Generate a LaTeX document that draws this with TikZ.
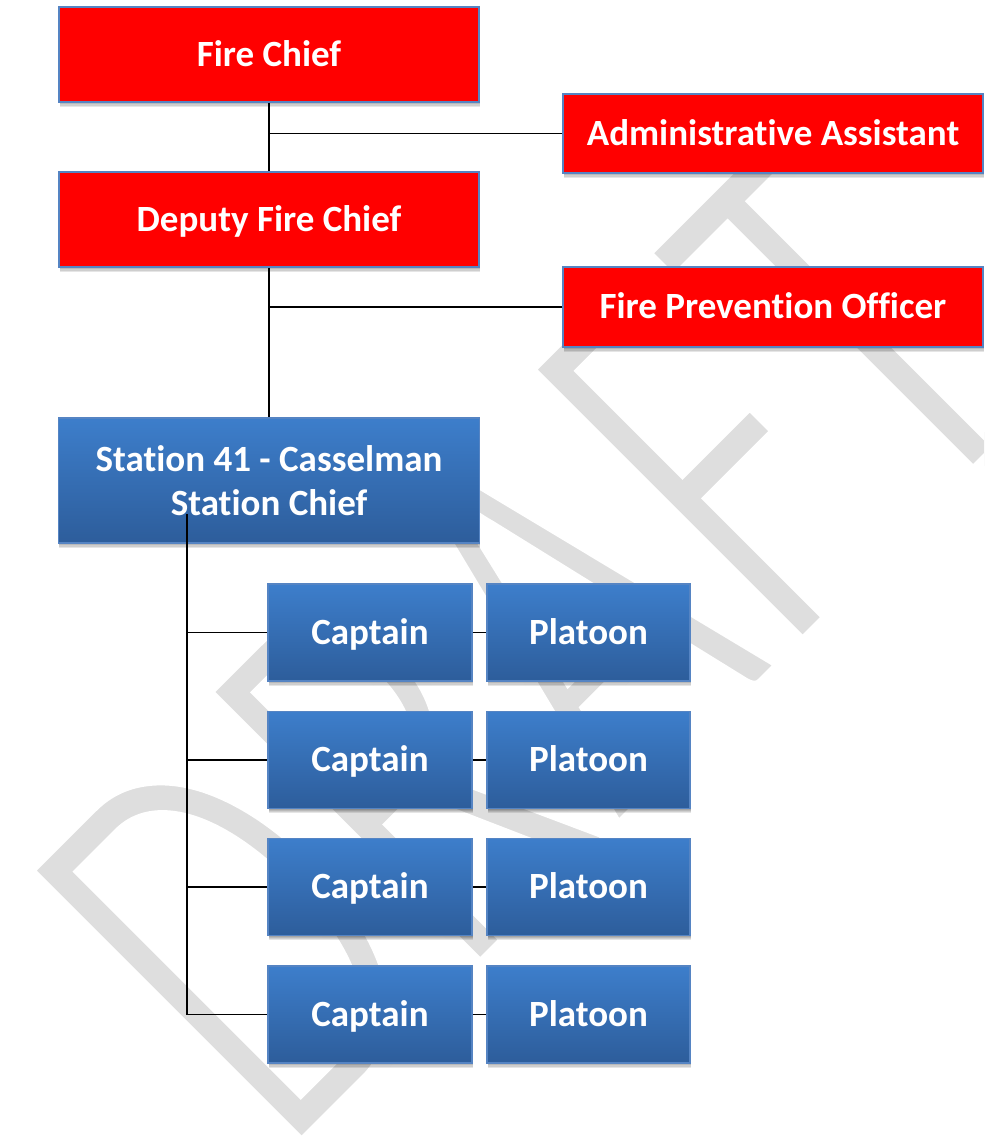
\documentclass[tikz,border=0pt]{standalone}
\usepackage{fontspec}
\setmainfont{Carlito}[Ligatures=NoCommon]
\definecolor{chiefred}{HTML}{FF0000}
\definecolor{boxedge}{HTML}{5584C3}
\definecolor{stationtop}{HTML}{3D7ECB}
\definecolor{stationbot}{HTML}{2D5D9B}
\definecolor{draftgray}{HTML}{DEDEDE}
\newcommand{\thinmark}[1]{\special{pdf:literal direct 2 Tr 1 1 1 RG 6 w}#1\special{pdf:literal direct 0 Tr}}
\tikzset{
  shadowstep/.style={preaction={fill=black, draw=none, fill opacity=0.1,
    transform canvas={xshift=0.4pt, yshift=-#1}}},
  orgbox/.style={draw=boxedge, line width=0.6pt, text=white, inner sep=0pt, align=center,
    font=\bfseries\fontsize{18.5}{22.2}\selectfont,
    shadowstep=0.6pt, shadowstep=1.2pt, shadowstep=1.8pt, shadowstep=2.4pt},
  oneline/.style={text height=11.9pt, text depth=0pt},
  redbox/.style={orgbox, oneline, fill=chiefred, minimum width=210pt},
  bluebox/.style={orgbox, top color=stationtop, bottom color=stationbot},
  crewbox/.style={bluebox, oneline, minimum height=48.5pt},
  orgline/.style={draw=black, line width=0.6pt},
  draftmark/.style={anchor=base west, inner sep=0pt, rotate=45, text=draftgray,
    font=\fontsize{204}{204}\selectfont}
}
\begin{document}
\begin{tikzpicture}[x=0.5pt,y=-0.5pt]
\useasboundingbox (0,0) rectangle (984,1138);
\clip (0,0) rectangle (984,1138);
\node[draftmark] (draft) at (284,1166) {\scalebox{1}[1.5]{\thinmark{DRAFT}}};
\node[redbox, minimum height=47.5pt] (chief) at (269,54.5) {Fire Chief};
\node[redbox, minimum height=39.5pt] (admin) at (773,133.5) {Administrative Assistant};
\node[redbox, minimum height=47.5pt] (deputy) at (269,219.5) {Deputy Fire Chief};
\node[redbox, minimum height=40pt] (prevention) at (773,307) {Fire Prevention Officer};
\node[bluebox, minimum width=210.5pt, minimum height=62.5pt] (station) at (269,480.5) {Station 41 - Casselman\\Station Chief};
\node[crewbox, minimum width=102pt] (cap1) at (370,632.5) {Captain};
\node[crewbox, minimum width=102pt] (cap2) at (370,760) {Captain};
\node[crewbox, minimum width=102pt] (cap3) at (370,887) {Captain};
\node[crewbox, minimum width=102pt] (cap4) at (370,1014.5) {Captain};
\node[crewbox, minimum width=101.5pt] (plat1) at (588.5,632.5) {Platoon};
\node[crewbox, minimum width=101.5pt] (plat2) at (588.5,760) {Platoon};
\node[crewbox, minimum width=101.5pt] (plat3) at (588.5,887) {Platoon};
\node[crewbox, minimum width=101.5pt] (plat4) at (588.5,1014.5) {Platoon};
\draw[orgline] (chief) -- (deputy);
\draw[orgline] (admin) -- (admin -| chief);
\draw[orgline] (deputy) -- (station);
\draw[orgline] (prevention) -- (prevention -| deputy);
\coordinate (spine) at (187,514);
\draw[orgline] (spine) |- (cap4);
\draw[orgline] (spine |- cap1) -- (cap1);
\draw[orgline] (spine |- cap2) -- (cap2);
\draw[orgline] (spine |- cap3) -- (cap3);
\draw[orgline] (cap1) -- (plat1);
\draw[orgline] (cap2) -- (plat2);
\draw[orgline] (cap3) -- (plat3);
\draw[orgline] (cap4) -- (plat4);
\end{tikzpicture}
\end{document}
